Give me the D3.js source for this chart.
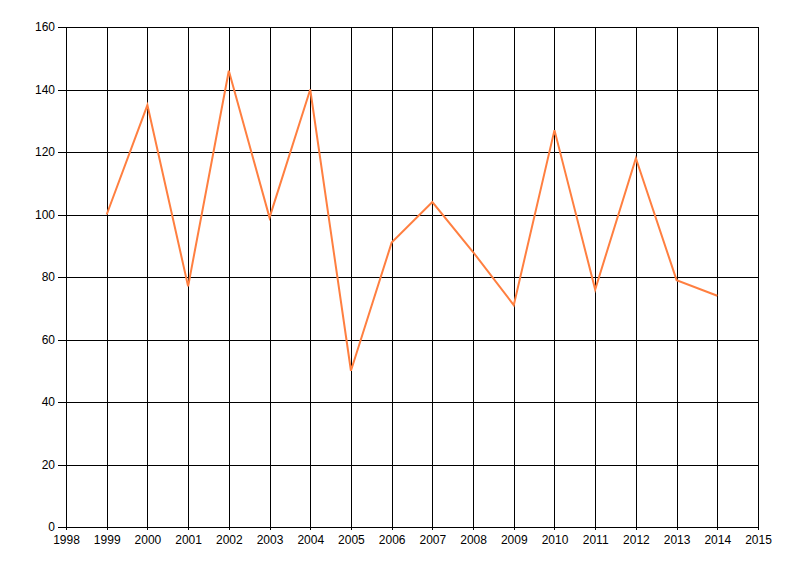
<!DOCTYPE html>
<html>
<head>
<meta charset="utf-8">
<script src="https://cdn.jsdelivr.net/npm/d3@7"></script>
<style>
  body { margin: 0; background: #fff; }
  text { font-family: "Liberation Sans", Arial, sans-serif; font-size: 12px; fill: #000; }
</style>
</head>
<body>
<div id="vis"></div>
<script>
// data
let years  = [1999, 2000, 2001, 2002, 2003, 2004, 2005, 2006, 2007, 2008, 2009, 2010, 2011, 2012, 2013, 2014];
let values = [100, 135, 77, 146, 99, 140, 50, 91, 104, 88, 71, 127, 76, 118, 79, 74];
let xTicks = d3.range(1998, 2016);
let yTicks = [0, 20, 40, 60, 80, 100, 120, 140, 160];

let margin = { top: 27, left: 66, right: 42, bottom: 49 },
  width  = 800 - margin.left - margin.right,
  height = 576 - margin.top - margin.bottom;

let svg = d3.select('#vis')
  .append('svg')
    .attr('width', 800)
    .attr('height', 576);

let g = svg.append('g')
  .attr('transform', `translate(${margin.left},${margin.top})`);

let x = d3.scaleLinear().domain([1998, 2015]).range([0, width]);
let y = d3.scaleLinear().domain([0, 160]).range([height, 0]);

// vertical grid
g.append('g')
  .selectAll('line')
  .data(xTicks)
  .join('line')
    .attr('x1', d => Math.round(x(d)) + 0.5)
    .attr('x2', d => Math.round(x(d)) + 0.5)
    .attr('y1', 0)
    .attr('y2', height + 3)
    .attr('stroke', '#000');

// horizontal grid
g.append('g')
  .selectAll('line')
  .data(yTicks)
  .join('line')
    .attr('x1', -8)
    .attr('x2', width)
    .attr('y1', d => Math.round(y(d)) + 0.5)
    .attr('y2', d => Math.round(y(d)) + 0.5)
    .attr('stroke', '#000');

// axes labels
let xAxis = d3.axisBottom(x).tickValues(xTicks).tickFormat(d3.format('d')).tickSize(0).tickPadding(8);
let gx = g.append('g').attr('transform', `translate(0,${height})`).call(xAxis);
gx.select('.domain').remove();
gx.selectAll('text').style('font-family', '"Liberation Sans", Arial, sans-serif').style('font-size', '12px');

let yAxis = d3.axisLeft(y).tickValues(yTicks).tickSize(0).tickPadding(11);
let gy = g.append('g').call(yAxis);
gy.select('.domain').remove();
gy.selectAll('text').style('font-family', '"Liberation Sans", Arial, sans-serif').style('font-size', '12px');

// the series
let line = d3.line()
  .x((d, i) => x(years[i]))
  .y(d => y(d));

g.append('path')
  .datum(values)
  .attr('fill', 'none')
  .attr('stroke', '#ff7f40')
  .attr('stroke-width', 2)
  .attr('stroke-linejoin', 'miter')
  .attr('d', line);
</script>
</body>
</html>
